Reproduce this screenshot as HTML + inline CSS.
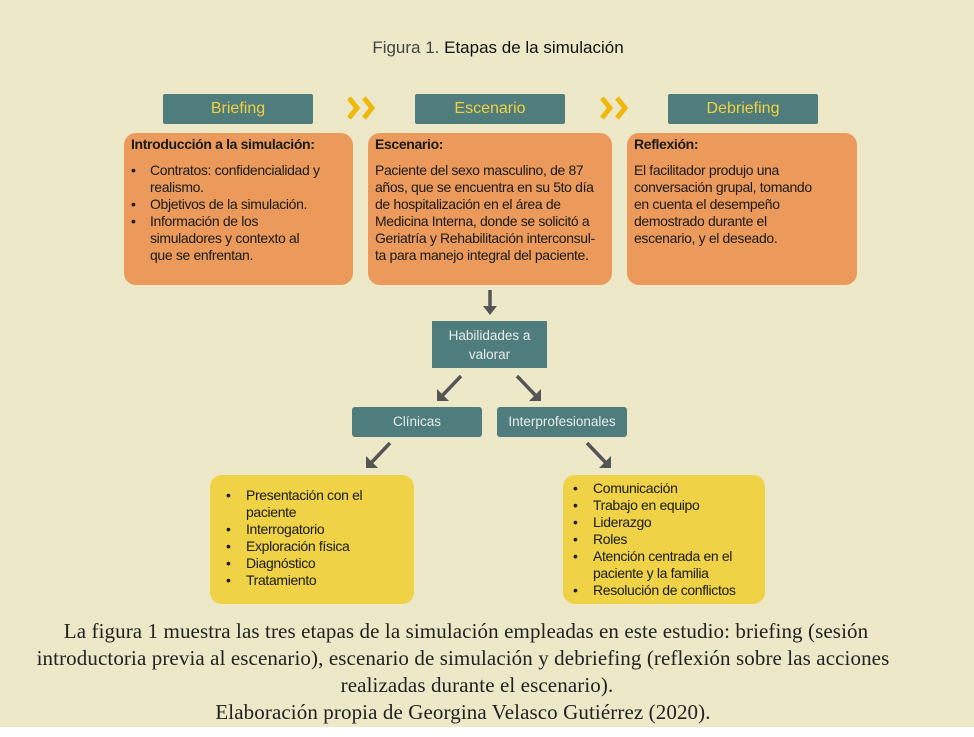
<!DOCTYPE html>
<html><head><meta charset="utf-8"><style>
*{margin:0;padding:0;box-sizing:border-box}
body{width:974px;height:737px;background:#fff;position:relative;overflow:hidden;font-family:"Liberation Sans",sans-serif}
#bg{position:absolute;left:0;top:0;width:974px;height:727px;background:#ede8c8}
.a{position:absolute}
.hd{background:#4f7c7c;color:#f3d03e;font-size:16px;text-align:center;line-height:30px;border-radius:2px}
.or{background:#eb9a5b;border-radius:12px;color:#1a1a1a;font-size:14px;line-height:17px;padding:3px 7px;letter-spacing:-0.35px;white-space:nowrap}
.or b{display:block;margin-bottom:9px}
ul{list-style:none}
li{position:relative;padding-left:19px}
li:before{content:"•";position:absolute;left:0}
.tl{background:#4f7c7c;color:#e5ecea;font-size:13.5px;text-align:center}
.ye{background:#efd246;border-radius:12px;color:#1a1a1a;font-size:14px;line-height:17px;letter-spacing:-0.35px;white-space:nowrap}
.ye li{padding-left:36px}.ye li:before{left:16px}
.cap{position:absolute;left:0;width:974px;text-align:center;font-family:"Liberation Serif",serif;font-size:21px;color:#222;letter-spacing:0.1px}
</style></head><body>
<div id="bg"></div>
<div class="a" style="left:0;width:996px;top:38px;text-align:center;font-size:17px;color:#444">Figura 1. <span style="color:#111">Etapas de la simulación</span></div>

<div class="a hd" style="left:163px;top:94px;width:150px;height:30px">Briefing</div>
<div class="a hd" style="left:415px;top:94px;width:150px;height:30px">Escenario</div>
<div class="a hd" style="left:668px;top:94px;width:150px;height:30px">Debriefing</div>
<svg class="a" style="left:0;top:0" width="974" height="737">
<g fill="none" stroke="#f0b80a" stroke-width="5">
<path d="M349 98 L357 108 L349 118 M364 98 L372 108 L364 118"/>
<path d="M602 98 L610 108 L602 118 M617 98 L625 108 L617 118"/>
</g>
<g stroke="#555" stroke-width="3.5" fill="none">
<path d="M490 290 L490 310"/>
<path d="M461 376 L441 397"/>
<path d="M517 376 L537 397"/>
<path d="M390 443 L370 464"/>
<path d="M587 443 L607 464"/>
</g>
<g fill="#555">
<path d="M483 306 L497 306 L490 315 Z"/>
<path d="M437 401 L437 389 L449 401 Z"/>
<path d="M541 401 L541 389 L529 401 Z"/>
<path d="M366 468 L366 456 L378 468 Z"/>
<path d="M611 468 L611 456 L599 468 Z"/>
</g>
</svg>

<div class="a or" style="left:124px;top:133px;width:229px;height:152px">
<b>Introducción a la simulación:</b>
<ul><li>Contratos: confidencialidad y<br>realismo.</li><li>Objetivos de la simulación.</li><li>Información de los<br>simuladores y contexto al<br>que se enfrentan.</li></ul></div>
<div class="a or" style="left:368px;top:133px;width:244px;height:152px">
<b>Escenario:</b>Paciente del sexo masculino, de 87<br>años, que se encuentra en su 5to día<br>de hospitalización en el área de<br>Medicina Interna, donde se solicitó a<br>Geriatría y Rehabilitación interconsul-<br>ta para manejo integral del paciente.</div>
<div class="a or" style="left:627px;top:133px;width:230px;height:152px">
<b>Reflexión:</b>El facilitador produjo una<br>conversación grupal, tomando<br>en cuenta el desempeño<br>demostrado durante el<br>escenario, y el deseado.</div>

<div class="a tl" style="left:432px;top:321px;width:115px;height:47px;line-height:19px;padding-top:5px">Habilidades a<br>valorar</div>
<div class="a tl" style="left:352px;top:407px;width:130px;height:30px;line-height:30px;border-radius:3px">Clínicas</div>
<div class="a tl" style="left:497px;top:407px;width:130px;height:30px;line-height:30px;border-radius:3px">Interprofesionales</div>

<div class="a ye" style="left:210px;top:475px;width:204px;height:129px;padding-top:12px">
<ul><li>Presentación con el<br>paciente</li><li>Interrogatorio</li><li>Exploración física</li><li>Diagnóstico</li><li>Tratamiento</li></ul></div>
<div class="a ye" style="left:563px;top:475px;width:202px;height:129px;padding-top:5px">
<ul style="margin-left:-6px"><li>Comunicación</li><li>Trabajo en equipo</li><li>Liderazgo</li><li>Roles</li><li>Atención centrada en el<br>paciente y la familia</li><li>Resolución de conflictos</li></ul></div>

<div class="cap" style="top:619px;left:-21px">La figura 1 muestra las tres etapas de la simulación empleadas en este estudio: briefing (sesión</div>
<div class="cap" style="top:646px;left:-24px">introductoria previa al escenario), escenario de simulación y debriefing (reflexión sobre las acciones</div>
<div class="cap" style="top:673px;left:-10px">realizadas durante el escenario).</div>
<div class="cap" style="top:700px;left:-24px">Elaboración propia de Georgina Velasco Gutiérrez (2020).</div>
</body></html>
